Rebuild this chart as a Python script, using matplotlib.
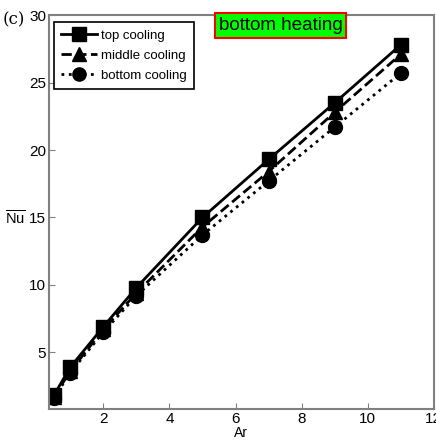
import matplotlib
matplotlib.use("Agg")
import matplotlib.pyplot as plt

plt.rcParams['font.family'] = ['Liberation Sans', 'DejaVu Sans']
plt.rcParams['mathtext.fontset'] = 'custom'
plt.rcParams['mathtext.rm'] = 'Liberation Sans'

ar = [0.5, 1, 2, 3, 5, 7, 9, 11]
top_cooling = [1.8, 3.9, 6.9, 9.8, 15.0, 19.3, 23.5, 27.8]
middle_cooling = [1.7, 3.6, 6.7, 9.4, 14.3, 18.4, 22.8, 27.1]
bottom_cooling = [1.6, 3.5, 6.5, 9.2, 13.7, 17.7, 21.7, 25.7]

fig = plt.figure(figsize=(4.36, 4.46), dpi=100)
ax = fig.add_axes([0.112, 0.083, 0.883, 0.883])

ax.plot(ar, top_cooling, 'k-', marker='s', ms=10, lw=2, label='top cooling')
ax.plot(ar, middle_cooling, 'k--', marker='^', ms=10, lw=2, label='middle cooling')
ax.plot(ar, bottom_cooling, 'k:', marker='o', ms=10, lw=2, label='bottom cooling')

ax.set_xlim(0.35, 12)
ax.set_ylim(0.8, 30)
ax.set_xticks([2, 4, 6, 8, 10, 12])
ax.set_yticks([5, 10, 15, 20, 25, 30])
ax.tick_params(direction='in', length=4, labelsize=11, color='gray', pad=2)
for s in ax.spines.values():
    s.set_color('gray')
    s.set_linewidth(1.5)

ax.set_xlabel('Ar', fontsize=10, labelpad=0)
fig.text(0.036, 1 - 219 / 446, r'$\overline{\mathrm{Nu}}$', fontsize=10.5,
         ha='center', va='center')

leg = ax.legend(loc='upper left', fontsize=9.5, fancybox=False, edgecolor='black',
                handlelength=2.7, handletextpad=0.3, borderpad=0.55, labelspacing=0.6,
                framealpha=1, markerscale=0.95, bbox_to_anchor=(0.014, 0.982),
                borderaxespad=0)
leg.get_frame().set_linewidth(1.2)

ax.text(0.442, 0.995, 'bottom heating', transform=ax.transAxes, fontsize=13.5,
        va='top', ha='left',
        bbox=dict(boxstyle='square,pad=0.2', facecolor='#00ff00', edgecolor='red', lw=1.5))

fig.text(0.005, 0.955, '(c)', fontsize=12, family='DejaVu Serif', va='center')

fig.savefig('out.png', dpi=100)
